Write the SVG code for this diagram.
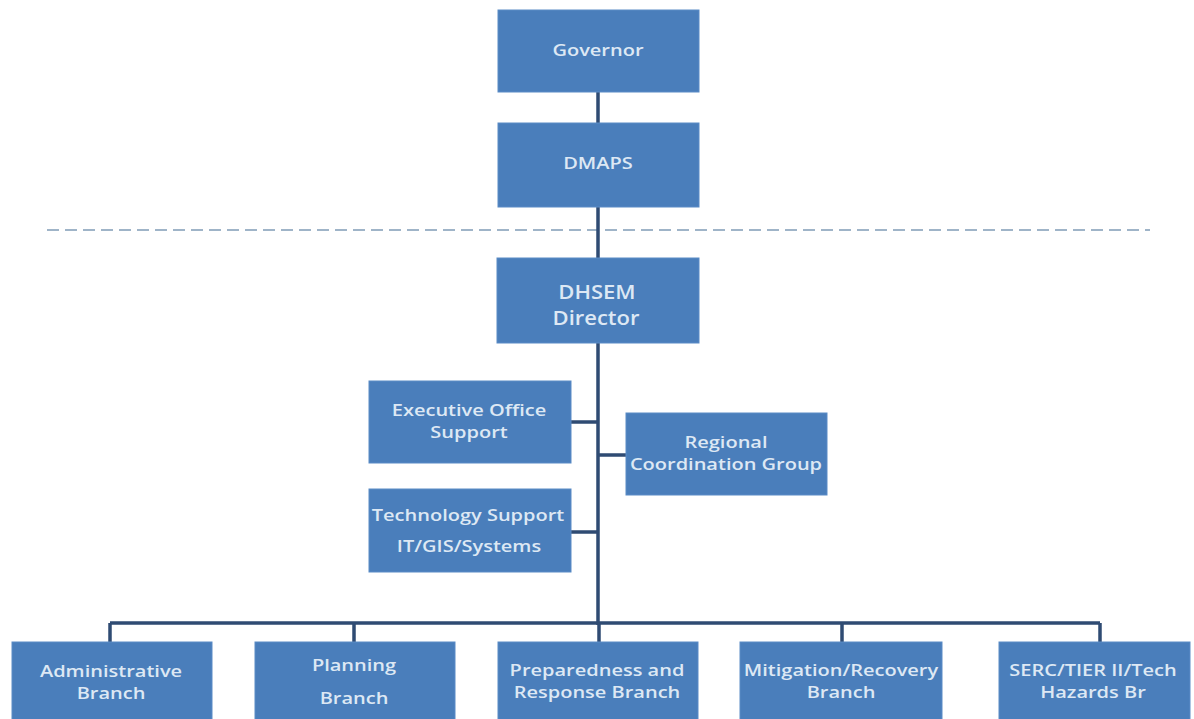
<svg xmlns="http://www.w3.org/2000/svg" width="1194" height="719" viewBox="0 0 1194 719">
<style>
.box{fill:#4a7ebb;stroke:#5a8bc6;stroke-width:1}
.t{font-family:"Open Sans","DejaVu Sans",sans-serif;font-weight:600;font-size:16px;fill:#dde8f4;text-anchor:middle}
.big{font-size:20px}
.ln{stroke:#2f4b73;stroke-width:3.5;fill:none}
</style>
<rect width="1194" height="719" fill="#ffffff"/>
<g id="connectors">
<line x1="47" y1="230" x2="1150" y2="230" stroke="#9fb4c8" stroke-width="2" stroke-dasharray="12,6"/>
<path class="ln" d="M598 92V123M598 207V258M598 343V625M571 422H598M571 532H598M598 455H626M110 623H1100M110 623V642M354 623V642M599 623V642M842 623V642M1100 623V642"/>
</g>
<g id="governor"><rect class="box" x="498" y="10" width="201" height="82"/><text class="t" transform="translate(598 56) scale(1.25 1)">Governor</text></g>
<g id="dmaps"><rect class="box" x="498" y="123" width="201" height="84"/><text class="t" transform="translate(598 169) scale(1.25 1)">DMAPS</text></g>
<g id="dhsem"><rect class="box" x="497" y="258" width="202" height="85"/><text class="t big" transform="translate(597 299) scale(1.1 1)">DHSEM</text><text class="t big" transform="translate(596 325) scale(1.1 1)">Director</text></g>
<g id="exec"><rect class="box" x="369" y="381" width="202" height="82"/><text class="t" transform="translate(469 416) scale(1.25 1)">Executive Office</text><text class="t" transform="translate(469 438) scale(1.25 1)">Support</text></g>
<g id="tech"><rect class="box" x="369" y="489" width="202" height="83"/><text class="t" transform="translate(468 521) scale(1.25 1)">Technology Support</text><text class="t" transform="translate(469 552) scale(1.25 1)">IT/GIS/Systems</text></g>
<g id="regional"><rect class="box" x="626" y="413" width="201" height="82"/><text class="t" transform="translate(726 448) scale(1.25 1)">Regional</text><text class="t" transform="translate(726 470) scale(1.25 1)">Coordination Group</text></g>
<g id="admin"><rect class="box" x="12" y="642" width="200" height="90"/><text class="t" transform="translate(111 677) scale(1.25 1)">Administrative</text><text class="t" transform="translate(111 699) scale(1.25 1)">Branch</text></g>
<g id="planning"><rect class="box" x="255" y="642" width="200" height="90"/><text class="t" transform="translate(354 671) scale(1.25 1)">Planning</text><text class="t" transform="translate(354 704) scale(1.25 1)">Branch</text></g>
<g id="preparedness"><rect class="box" x="498" y="642" width="200" height="90"/><text class="t" transform="translate(597 676) scale(1.25 1)">Preparedness and</text><text class="t" transform="translate(597 698) scale(1.25 1)">Response Branch</text></g>
<g id="mitigation"><rect class="box" x="740" y="642" width="202" height="90"/><text class="t" transform="translate(841 676) scale(1.25 1)">Mitigation/Recovery</text><text class="t" transform="translate(841 698) scale(1.25 1)">Branch</text></g>
<g id="serc"><rect class="box" x="999" y="642" width="191" height="90"/><text class="t" transform="translate(1093 676) scale(1.25 1)">SERC/TIER II/Tech</text><text class="t" transform="translate(1093 698) scale(1.25 1)">Hazards Br</text></g>
</svg>
